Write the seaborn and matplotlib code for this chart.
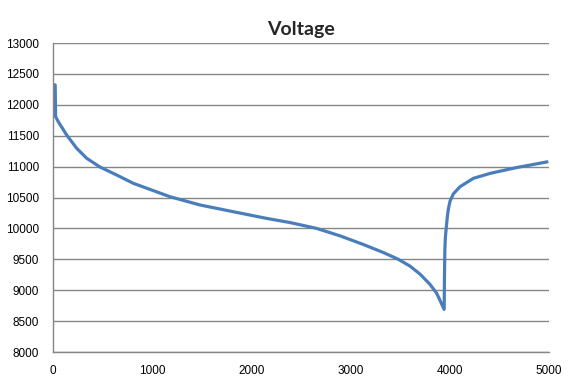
import numpy as np
import pandas as pd
import matplotlib
matplotlib.use("Agg")
import matplotlib.pyplot as plt
import seaborn as sns

# values
time = [5, 22, 26, 53, 138, 239, 340, 474, 642, 809, 1179, 1482, 1818, 2154,
        2389, 2658, 2893, 3128, 3330, 3481, 3599, 3700, 3800, 3868, 3943,
        3946, 3950, 3955, 3962, 3975, 3985, 4002, 4036, 4103, 4237, 4405,
        4574, 4674, 4842, 4993]
voltage = [12330, 12320, 11808, 11727, 11510, 11296, 11134, 10993, 10864, 10730,
           10513, 10379, 10270, 10162, 10095, 10000, 9880, 9740, 9610, 9500,
           9390, 9260, 9095, 8950, 8690, 9200, 9650, 9850, 9974, 10189, 10309,
           10440, 10560, 10675, 10810, 10890, 10950, 10985, 11035, 11080]

x_ticks = [0, 1000, 2000, 3000, 4000, 5000]
y_ticks = [8000, 8500, 9000, 9500, 10000, 10500, 11000, 11500, 12000, 12500, 13000]

df = pd.DataFrame({"time": time, "voltage": voltage})

sns.set_style("white")
plt.rcParams["font.family"] = ["Liberation Sans", "DejaVu Sans"]

fig = plt.figure(figsize=(5.75, 3.83), dpi=100)
ax = fig.add_axes([0.0922, 0.0809, 0.8626, 0.8068])

sns.lineplot(x="time", y="voltage", data=df, ax=ax, color="#4A7EBB",
             linewidth=2.3, estimator=None, sort=False)
ax.lines[0].set_solid_joinstyle("round")
ax.lines[0].set_solid_capstyle("butt")

ax.set_xlim(0, 5000)
ax.set_ylim(8000, 13000)
ax.set_xticks(x_ticks)
ax.set_yticks(y_ticks)
ax.set_xlabel("")
ax.set_ylabel("")
ax.yaxis.grid(True, color="#868686", linewidth=1)
ax.set_axisbelow(True)

for s in ["top", "right"]:
    ax.spines[s].set_visible(False)
for s in ["left", "bottom"]:
    ax.spines[s].set_color("#868686")
    ax.spines[s].set_linewidth(1)

ax.tick_params(axis="both", which="both", direction="out", length=4,
               color="#868686", labelsize=8.5, labelcolor="#000000")
ax.tick_params(axis="y", pad=6)
ax.tick_params(axis="x", pad=5)

ax.set_title("Voltage", fontsize=14, fontweight="bold", pad=6,
             family=["Lato", "DejaVu Sans"])

fig.savefig("out.png", dpi=100)
